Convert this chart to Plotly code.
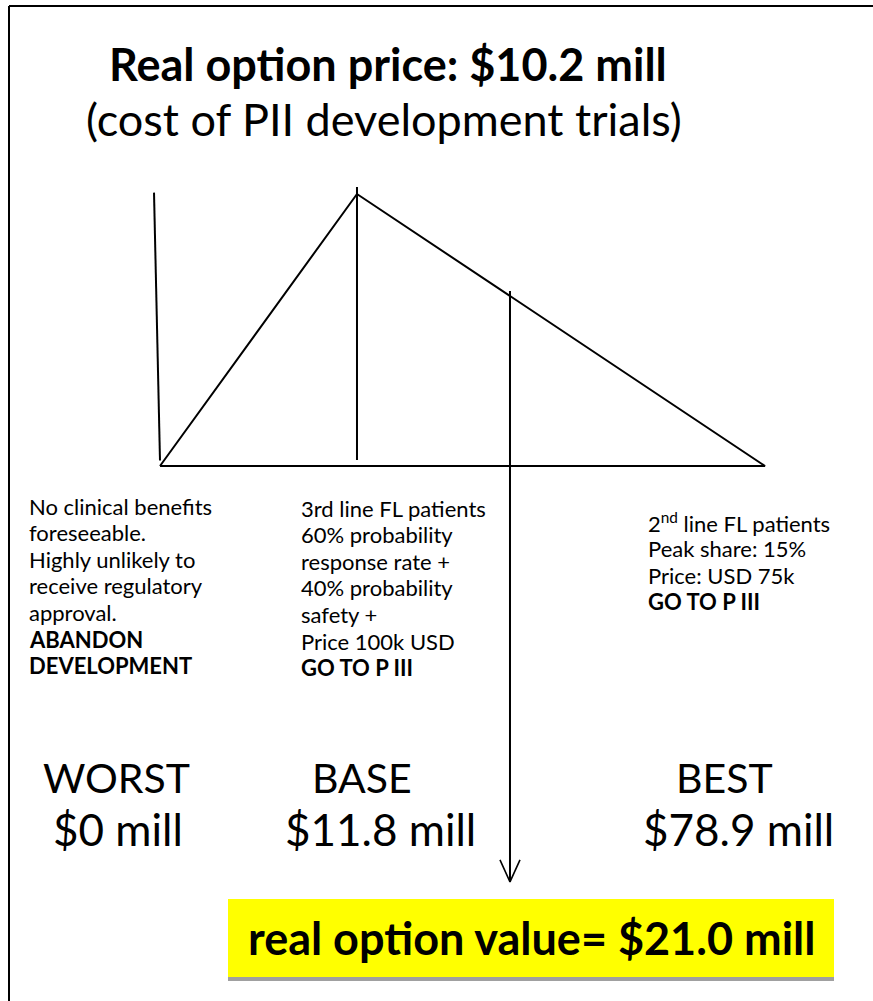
import plotly.graph_objects as go

# ---------------- data ----------------
title_main = "Real option price: $10.2 mill"
title_sub = "(cost of PII development trials)"

scenarios = ["WORST", "BASE", "BEST"]
scenario_values = ["$0 mill", "$11.8 mill", "$78.9 mill"]

desc_worst = ["No clinical benefits", "foreseeable.", "Highly unlikely to",
              "receive regulatory", "approval.", "<b>ABANDON</b>", "<b>DEVELOPMENT</b>"]
desc_base = ["3rd line FL patients", "60% probability", "response rate +",
             "40% probability", "safety +", "Price 100k USD", "<b>GO TO P III</b>"]
desc_best = ["2<sup>nd</sup> line FL patients", "Peak share: 15%", "Price: USD 75k",
             "<b>GO TO P III</b>"]

option_value_text = "real option value= $21.0 mill"

# schematic distribution (diagram units: worst=0, best=1, apex height=1)
tri_x = [0.0, 0.3256, 1.0, 0.0]
tri_y = [0.0, 1.0, 0.0, 0.0]
worst_line_x = [-0.0099, 0.0]
worst_line_y = [1.005, 0.02]
base_line_x = [0.3256, 0.3256]
base_line_y = [1.026, 0.022]
opt_x = 0.5785
opt_top = 0.643
opt_bottom = -1.529

W, H = 873, 1001
# axis ranges so that diagram units map onto the page
x0_px, x1_px = 160.0, 765.0
y0_px, y1_px = 466.0, 194.0
sx = x1_px - x0_px
sy = y0_px - y1_px
xr = [(0 - x0_px) / sx, (W - x0_px) / sx]
yr = [(y0_px - H) / sy, (y0_px - 0) / sy]


def X(px):
    return (px - x0_px) / sx


def Y(py):
    return (y0_px - py) / sy


fig = go.Figure()
line_style = dict(color="black", width=2)

fig.add_trace(go.Scatter(x=tri_x, y=tri_y, mode="lines", line=line_style, hoverinfo="skip"))
fig.add_trace(go.Scatter(x=worst_line_x, y=worst_line_y, mode="lines", line=line_style, hoverinfo="skip"))
fig.add_trace(go.Scatter(x=base_line_x, y=base_line_y, mode="lines", line=line_style, hoverinfo="skip"))
fig.add_trace(go.Scatter(x=[opt_x, opt_x], y=[opt_top, opt_bottom], mode="lines",
                         line=line_style, hoverinfo="skip"))
# open arrow head
ah_w = 10 / sx
ah_h = 22 / sy
fig.add_trace(go.Scatter(x=[opt_x - ah_w, opt_x, opt_x + ah_w],
                         y=[opt_bottom + ah_h, opt_bottom, opt_bottom + ah_h],
                         mode="lines", line=dict(color="black", width=1.6), hoverinfo="skip"))

shapes = []
# page frame (left + top)
shapes.append(dict(type="line", xref="x", yref="y", x0=X(9), x1=X(9), y0=Y(6), y1=Y(1001),
                   line=dict(color="black", width=2)))
shapes.append(dict(type="line", xref="x", yref="y", x0=X(9), x1=X(873), y0=Y(6), y1=Y(6),
                   line=dict(color="black", width=2)))
# yellow box with grey shadow
shapes.append(dict(type="rect", xref="x", yref="y", x0=X(228), x1=X(834), y0=Y(903), y1=Y(981),
                   line=dict(width=0), fillcolor="#a0a0a0", layer="below"))
shapes.append(dict(type="rect", xref="x", yref="y", x0=X(228), x1=X(834), y0=Y(899), y1=Y(977),
                   line=dict(width=0), fillcolor="#ffff00", layer="below"))

FONT = "Lato, Calibri, Carlito, sans-serif"
ann = []
ann.append(dict(x=X(388), y=Y(64), text="<b>" + title_main + "</b>",
                font=dict(family=FONT, size=45, color="black")))
ann.append(dict(x=X(384), y=Y(119), text=title_sub,
                font=dict(family=FONT, size=45, color="black")))

desc_font = dict(family=FONT, size=22, color="black")
line_step = 26.6
for xpx, ypx, lines in [(27, 506, desc_worst), (299, 508, desc_base), (646, 522, desc_best)]:
    for i, ln in enumerate(lines):
        ann.append(dict(x=X(xpx), y=Y(ypx + i * line_step), text=ln, xanchor="left",
                        yanchor="middle", align="left", font=desc_font))

name_font = dict(family=FONT, size=41, color="black")
val_font = dict(family=FONT, size=44, color="black")
name_pos = [(116, 777), (362, 777), (724, 777)]
val_pos = [(118, 829), (380, 829), (738, 829)]
for s, v, (nx, ny), (vx, vy) in zip(scenarios, scenario_values, name_pos, val_pos):
    ann.append(dict(x=X(nx), y=Y(ny), text=s, font=name_font))
    ann.append(dict(x=X(vx), y=Y(vy), text=v, font=val_font))

ann.append(dict(x=X(531), y=Y(938), text="<b>" + option_value_text + "</b>",
                font=dict(family=FONT, size=45, color="black")))

for a in ann:
    a.setdefault("xanchor", "center")
    a.setdefault("yanchor", "middle")
    a.update(xref="x", yref="y", showarrow=False)

fig.update_layout(
    width=W, height=H, margin=dict(l=0, r=0, t=0, b=0),
    paper_bgcolor="white", plot_bgcolor="white", showlegend=False,
    xaxis=dict(range=xr, visible=False, fixedrange=True),
    yaxis=dict(range=yr, visible=False, fixedrange=True),
    shapes=shapes, annotations=ann,
)

fig.write_html("out.html", config={"displayModeBar": False},
               post_script="document.body.style.margin='0';document.body.style.overflow='hidden';")
